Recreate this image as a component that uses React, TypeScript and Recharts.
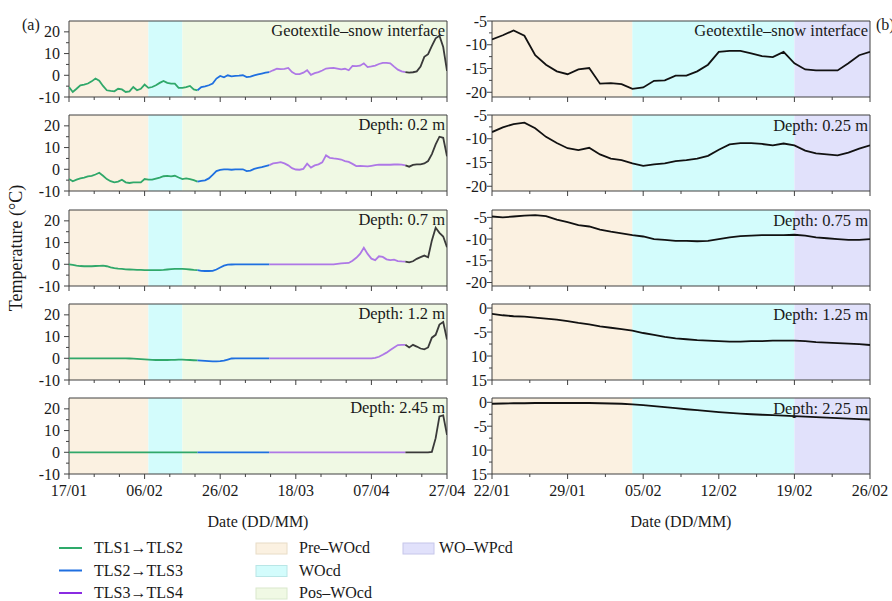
import React from 'react';
import { LineChart, Line, XAxis, YAxis, ReferenceArea } from 'recharts';

const FONT = '"Liberation Serif", "Times New Roman", Times, serif';
const AXIS_COLOR = '#404040';
const TEXT_COLOR = '#1a1a1a';

// ---------- x axis ticks ----------
const leftDateLabels = ['17/01', '06/02', '26/02', '18/03', '07/04', '27/04'];
const leftDateDays = [0, 20, 40, 60, 80, 100];
const rightDateLabels = ['22/01', '29/01', '05/02', '12/02', '19/02', '26/02'];
const rightDateDays = [0, 7, 14, 21, 28, 35];

// ---------- phases (day offsets) ----------
const leftPhaseNames = ['Pre–WOcd', 'WOcd', 'Pos–WOcd'];
const leftPhaseBounds = [0, 21, 30, 100];
const rightPhaseNames = ['Pre–WOcd', 'WOcd', 'WO–WPcd'];
const rightPhaseBounds = [0, 13, 28, 35];
const phaseColors: Record<string, string> = {
  'Pre–WOcd': '#FBF1E1',
  'WOcd': '#D3FCFC',
  'Pos–WOcd': '#F0F9E4',
  'WO–WPcd': '#E1E1FB',
};
const phaseBorders: Record<string, string> = {
  'Pre–WOcd': '#E8DCC6',
  'WOcd': '#B9E6E6',
  'Pos–WOcd': '#D9E8CC',
  'WO–WPcd': '#C6C6EA',
};

// ---------- segments of the left series ----------
const segmentNames = ['TLS1→TLS2', 'TLS2→TLS3', 'TLS3→TLS4', 'TLS4'];
const segmentEnds = [34, 53, 89, 100];
const segmentColors = ['#30A86A', '#1F70E0', '#AE78E6', '#3A3A3A'];
const legendLineColors = ['#2EAA6A', '#1F6FE0', '#8A2BE2'];

// ---------- left panels (daily values, 17/01 .. 27/04) ----------
const leftGeotextile = [
  -5.4, -7.7, -6.2, -4.6, -4.3, -3.8, -2.8, -1.5, -2.5, -4.9,
  -6.9, -7.2, -7.4, -6.2, -6.5, -7.7, -7.4, -5.4, -6.9, -6.2,
  -4.3, -5.8, -5.4, -4.6, -3.5, -2.6, -3.5, -3.8, -3.8, -5.8,
  -5.8, -5.4, -4.9, -6.5, -6.9, -5.4, -5.1, -4.6, -3.8, -1.5,
  -0.3, -0.9, 0, -0.5, -0.3, -0.2, 0, -0.8, -0.6, 0,
  0.4, 0.8, 1.2, 1.5, 2.3, 3.0, 2.8, 3.0, 3.4, 1.5,
  0.5, 0.5, 1.2, 2.3, 0.2, 1.0, 1.5, 2.2, 3.1, 3.3,
  3.4, 3.1, 2.7, 3.0, 2.3, 4.3, 4.2, 4.4, 5.5, 3.8,
  4.1, 4.5, 5.2, 5.7, 5.7, 5.5, 4.0, 2.6, 1.8, 1.5,
  1.2, 1.4, 1.8, 4.0, 8.5, 9.7, 13.5, 17.0, 18.2, 13.0,
  2.0,
];
const leftDepth02 = [
  -4.5, -5.5, -4.8, -4.2, -3.8, -3.3, -3.0, -2.4, -1.6, -3.0,
  -4.5, -5.5, -6.0, -5.7, -4.8, -6.0, -6.3, -6.0, -6.0, -6.0,
  -4.5, -4.8, -4.8, -4.3, -3.8, -3.2, -3.0, -3.3, -3.0, -3.8,
  -4.5, -4.2, -4.5, -5.0, -5.7, -5.3, -5.1, -4.2, -2.6, -0.8,
  -0.3, 0, 0, -0.2, 0, 0, 0, -0.8, -0.6, 0.2,
  0.6, 1.0, 1.5, 1.9, 2.7, 3.0, 3.3, 2.7, 1.8, 0.5,
  -0.1, -0.2, 0.2, 2.6, 0.8, 1.8, 2.3, 3.2, 6.4, 5.3,
  5.0, 4.8, 4.5, 3.8, 3.4, 2.5, 1.5, 1.6, 1.5, 1.3,
  1.6, 1.9, 2.1, 2.1, 2.1, 2.1, 2.2, 2.3, 2.1, 1.8,
  1.2, 2.0, 2.3, 2.3, 2.7, 3.8, 7.0, 11.5, 15.0, 14.5,
  6.0,
];
const leftDepth07 = [
  0, -0.3, -0.6, -0.8, -0.9, -0.9, -0.9, -0.8, -0.7, -0.6,
  -0.9, -1.4, -1.8, -2.0, -2.1, -2.3, -2.4, -2.5, -2.6, -2.6,
  -2.7, -2.7, -2.7, -2.7, -2.7, -2.6, -2.4, -2.2, -2.1, -2.1,
  -2.1, -2.2, -2.4, -2.6, -2.7, -3.0, -3.1, -3.1, -3.0, -2.4,
  -1.5, -0.6, -0.2, -0.1, 0, 0, 0, 0, 0, 0,
  0, 0, 0, 0, 0, 0, 0, 0, 0, 0,
  0, 0, 0, 0, 0, 0, 0, 0, 0, 0,
  0, 0.2, 0.4, 0.5, 0.6, 1.6, 3.0, 4.8, 7.6, 4.8,
  2.6, 1.9, 3.7, 3.4, 2.3, 1.9, 2.1, 1.5, 1.3, 1.2,
  0.9, 1.4, 2.5, 3.3, 4.0, 3.2, 11.0, 16.8, 14.5, 12.8,
  7.9,
];
const leftDepth12 = [
  0, 0, 0, 0, 0, 0, 0, 0, 0, 0,
  0, 0, 0, 0, 0, 0, -0.1, -0.2, -0.3, -0.4,
  -0.5, -0.6, -0.7, -0.8, -0.8, -0.8, -0.8, -0.7, -0.7, -0.6,
  -0.6, -0.7, -0.8, -0.9, -1.0, -1.1, -1.2, -1.3, -1.4, -1.4,
  -1.3, -1.1, -0.6, -0.1, 0, 0, 0, 0, 0, 0,
  0, 0, 0, 0, 0, 0, 0, 0, 0, 0,
  0, 0, 0, 0, 0, 0, 0, 0, 0, 0,
  0, 0, 0, 0, 0, 0, 0, 0, 0, 0,
  0, 0.2, 0.7, 1.6, 2.6, 3.8, 5.0, 6.1, 6.2, 6.2,
  5.0, 6.2, 5.4, 4.5, 4.1, 5.0, 9.5, 10.8, 15.5, 16.7,
  8.6,
];
const leftDepth245 = [
  0, 0, 0, 0, 0, 0, 0, 0, 0, 0,
  0, 0, 0, 0, 0, 0, 0, 0, 0, 0,
  0, 0, 0, 0, 0, 0, 0, 0, 0, 0,
  0, 0, 0, 0, 0, 0, 0, 0, 0, 0,
  0, 0, 0, 0, 0, 0, 0, 0, 0, 0,
  0, 0, 0, 0, 0, 0, 0, 0, 0, 0,
  0, 0, 0, 0, 0, 0, 0, 0, 0, 0,
  0, 0, 0, 0, 0, 0, 0, 0, 0, 0,
  0, 0, 0, 0, 0, 0, 0, 0, 0, 0,
  0, 0, 0, 0, 0, 0, 0.2, 6.5, 16.5, 17.0,
  8.0,
];
const leftSeries = [leftGeotextile, leftDepth02, leftDepth07, leftDepth12, leftDepth245];
const leftLabels = ['Geotextile–snow interface', 'Depth: 0.2 m', 'Depth: 0.7 m', 'Depth: 1.2 m', 'Depth: 2.45 m'];

// ---------- right panels (daily values, 22/01 .. 26/02) ----------
const rightGeotextile = [
  -8.9, -8.0, -7.0, -8.1, -12.2, -14.2, -15.6, -16.2, -15.2, -14.9,
  -18.2, -18.1, -18.3, -19.3, -19.0, -17.6, -17.5, -16.5, -16.5, -15.6,
  -14.2, -11.5, -11.3, -11.3, -11.8, -12.4, -12.6, -11.5, -13.9, -15.2,
  -15.4, -15.4, -15.4, -13.9, -12.2, -11.5,
];
const rightDepth025 = [
  -8.6, -7.6, -6.9, -6.6, -7.8, -9.6, -10.9, -12.0, -12.4, -11.9,
  -13.3, -14.2, -14.5, -15.2, -15.7, -15.4, -15.2, -14.7, -14.5, -14.2,
  -13.6, -12.3, -11.2, -10.9, -10.9, -11.1, -11.4, -11.0, -11.4, -12.5,
  -13.1, -13.3, -13.5, -12.9, -12.1, -11.4,
];
const rightDepth075 = [
  -4.8, -5.0, -4.8, -4.6, -4.5, -4.7, -5.5, -6.1, -6.8, -7.1,
  -7.8, -8.3, -8.7, -9.1, -9.4, -10.0, -10.2, -10.4, -10.4, -10.5,
  -10.4, -10.0, -9.6, -9.3, -9.2, -9.1, -9.1, -9.1, -9.0, -9.2,
  -9.6, -9.8, -10.0, -10.2, -10.2, -10.0,
];
const rightDepth125 = [
  -1.2, -1.5, -1.7, -1.8, -2.0, -2.2, -2.4, -2.7, -3.1, -3.4,
  -3.8, -4.1, -4.4, -4.7, -5.2, -5.6, -6.0, -6.3, -6.5, -6.7,
  -6.8, -6.9, -7.0, -7.0, -6.9, -6.9, -6.8, -6.8, -6.8, -6.9,
  -7.1, -7.2, -7.3, -7.4, -7.5, -7.7,
];
const rightDepth225 = [
  -0.3, -0.25, -0.2, -0.2, -0.15, -0.15, -0.15, -0.15, -0.15, -0.15,
  -0.2, -0.25, -0.3, -0.45, -0.6, -0.8, -1.0, -1.2, -1.45, -1.65,
  -1.85, -2.05, -2.2, -2.35, -2.5, -2.6, -2.7, -2.8, -2.9, -3.0,
  -3.1, -3.2, -3.3, -3.4, -3.5, -3.6,
];
const rightSeries = [rightGeotextile, rightDepth025, rightDepth075, rightDepth125, rightDepth225];
const rightLabels = ['Geotextile–snow interface', 'Depth: 0.25 m', 'Depth: 0.75 m', 'Depth: 1.25 m', 'Depth: 2.25 m'];

// ---------- y axes ----------
const leftYDomain = [-10, 25];
const leftYMajor = [-10, 0, 10, 20];
const leftYMinor = [-5, 5, 15];
const rightYDomains = [[-21, -5], [-21, -5], [-20.8, -3.3], [-15, 0.85], [-15, 0.9]];
const rightYMajorA = [-20, -15, -10, -5];
const rightYMajorB = [-15, -10, -5, 0];
const rightYLabelsB = ['15', '10', '-5', '0'];
const rightYMinorA = [-17.5, -12.5, -7.5];
const rightYMinorB = [-12.5, -7.5, -2.5];

// ---------- layout ----------
const LEFT_TOPS = [21, 115, 210, 304, 398];
const RIGHT_TOPS = [20.5, 115, 210, 304, 398];
const PLOT_H = 76;
const PLOT_W = 378;
const LEFT_X0 = 69;
const RIGHT_X0 = 492;
const Y_W = 50;
const X_H = 30;
const M_T = 12;
const M_R = 24;

function near(a: number, b: number) {
  return Math.abs(a - b) < 1e-6;
}

function makeXTick(majors: number[], labels: string[], showLabels: boolean) {
  return (props: any) => {
    const { x, y, payload } = props;
    const idx = majors.findIndex((m) => near(m, payload.value));
    const major = idx >= 0;
    return (
      <g>
        <line x1={x} x2={x} y1={y} y2={y + (major ? 5 : 3)} stroke={AXIS_COLOR} strokeWidth={1} />
        {major && showLabels ? (
          <text x={x} y={y + 22} textAnchor="middle" fontFamily={FONT} fontSize={16} fill={TEXT_COLOR}>
            {labels[idx]}
          </text>
        ) : null}
      </g>
    );
  };
}

function makeYTick(majors: number[], labels: string[], gap: number) {
  return (props: any) => {
    const { x, y, payload } = props;
    const idx = majors.findIndex((m) => near(m, payload.value));
    const major = idx >= 0;
    return (
      <g>
        <line x1={x - (major ? 5 : 3)} x2={x} y1={y} y2={y} stroke={AXIS_COLOR} strokeWidth={1} />
        {major ? (
          <text x={x - gap} y={y + 5.5} textAnchor="end" fontFamily={FONT} fontSize={16} fill={TEXT_COLOR}>
            {labels[idx]}
          </text>
        ) : null}
      </g>
    );
  };
}

function minorSteps(max: number, step: number) {
  const out: number[] = [];
  for (let k = 0; k * step <= max + 1e-6; k++) out.push(k * step);
  return out;
}

function LeftPanel({ index }: { index: number }) {
  const vals = leftSeries[index];
  const data = vals.map((v, i) => {
    const row: any = { day: i };
    let start = 0;
    segmentEnds.forEach((end, s) => {
      row['s' + s] = i >= start && i <= end ? v : null;
      start = end;
    });
    return row;
  });
  const xTicks = minorSteps(100, 20 / 3);
  const yTicks = [...leftYMajor, ...leftYMinor].sort((a, b) => a - b);
  const top = LEFT_TOPS[index];
  return (
    <div style={{ position: 'absolute', left: LEFT_X0 - Y_W, top: top - M_T }}>
      <LineChart width={Y_W + PLOT_W + M_R} height={M_T + PLOT_H + X_H} data={data}
        margin={{ top: M_T, right: M_R, left: 0, bottom: 0 }}>
        <XAxis dataKey="day" type="number" domain={[0, 100]} ticks={xTicks} interval={0}
          height={X_H} tickSize={0} tickMargin={0} tickLine={false} axisLine={false}
          tick={makeXTick(leftDateDays, leftDateLabels, index === 4)} allowDataOverflow />
        <YAxis type="number" domain={leftYDomain} ticks={yTicks} interval={0} width={Y_W}
          tickSize={0} tickMargin={0} tickLine={false} axisLine={false}
          tick={makeYTick(leftYMajor, leftYMajor.map(String), 9)} allowDataOverflow />
        {leftPhaseNames.map((n, k) => (
          <ReferenceArea key={n} x1={leftPhaseBounds[k]} x2={leftPhaseBounds[k + 1]}
            fill={phaseColors[n]} fillOpacity={1} stroke="none" ifOverflow="hidden" />
        ))}
        {segmentNames.map((n, s) => (
          <Line key={n} dataKey={'s' + s} type="linear" stroke={segmentColors[s]} strokeWidth={1.8}
            dot={false} activeDot={false} isAnimationActive={false} connectNulls={false} />
        ))}
        <ReferenceArea x1={0} x2={100} fill="none" stroke={AXIS_COLOR} strokeWidth={1} ifOverflow="visible" />
      </LineChart>
    </div>
  );
}

function RightPanel({ index }: { index: number }) {
  const vals = rightSeries[index];
  const data = vals.map((v, i) => ({ day: i, t: v }));
  const xTicks = minorSteps(35, 3.5);
  const typeB = index >= 3;
  const majors = typeB ? rightYMajorB : rightYMajorA;
  const labels = typeB ? rightYLabelsB : rightYMajorA.map(String);
  const yTicks = [...majors, ...(typeB ? rightYMinorB : rightYMinorA)].sort((a, b) => a - b);
  const top = RIGHT_TOPS[index];
  return (
    <div style={{ position: 'absolute', left: RIGHT_X0 - Y_W, top: top - M_T }}>
      <LineChart width={Y_W + PLOT_W + M_R} height={M_T + PLOT_H + X_H} data={data}
        margin={{ top: M_T, right: M_R, left: 0, bottom: 0 }}>
        <XAxis dataKey="day" type="number" domain={[0, 35]} ticks={xTicks} interval={0}
          height={X_H} tickSize={0} tickMargin={0} tickLine={false} axisLine={false}
          tick={makeXTick(rightDateDays, rightDateLabels, index === 4)} allowDataOverflow />
        <YAxis type="number" domain={rightYDomains[index]} ticks={yTicks} interval={0} width={Y_W}
          tickSize={0} tickMargin={0} tickLine={false} axisLine={false}
          tick={makeYTick(majors, labels, 5)} allowDataOverflow />
        {rightPhaseNames.map((n, k) => (
          <ReferenceArea key={n} x1={rightPhaseBounds[k]} x2={rightPhaseBounds[k + 1]}
            fill={phaseColors[n]} fillOpacity={1} stroke="none" ifOverflow="hidden" />
        ))}
        <Line dataKey="t" type="linear" stroke="#111111" strokeWidth={1.8}
          dot={false} activeDot={false} isAnimationActive={false} />
        <ReferenceArea x1={0} x2={35} fill="none" stroke={AXIS_COLOR} strokeWidth={1} ifOverflow="visible" />
      </LineChart>
    </div>
  );
}

const legendPatchOrder = ['Pre–WOcd', 'WOcd', 'Pos–WOcd'];

export default function App() {
  const textStyle = { fontFamily: FONT, fill: TEXT_COLOR };
  return (
    <div style={{ position: 'absolute', left: 0, top: 0, width: 892, height: 601, background: '#ffffff', overflow: 'hidden' }}>
      {[0, 1, 2, 3, 4].map((i) => <LeftPanel key={'l' + i} index={i} />)}
      {[0, 1, 2, 3, 4].map((i) => <RightPanel key={'r' + i} index={i} />)}
      <svg width={892} height={601} style={{ position: 'absolute', left: 0, top: 0, pointerEvents: 'none' }}>
        {leftLabels.map((t, i) => (
          <text key={'lt' + i} x={445} y={LEFT_TOPS[i] + 15} textAnchor="end" fontSize={16.5} {...textStyle}>{t}</text>
        ))}
        {rightLabels.map((t, i) => (
          <text key={'rt' + i} x={868} y={RIGHT_TOPS[i] + 15.5} textAnchor="end" fontSize={16.5} {...textStyle}>{t}</text>
        ))}
        <text x={22} y={30} fontSize={16} {...textStyle}>(a)</text>
        <text x={876} y={30} fontSize={16} {...textStyle}>(b)</text>
        <text transform="translate(22,248) rotate(-90)" textAnchor="middle" fontSize={18} {...textStyle}>Temperature (°C)</text>
        <text x={258} y={527} textAnchor="middle" fontSize={16} {...textStyle}>Date (DD/MM)</text>
        <text x={681} y={527} textAnchor="middle" fontSize={16} {...textStyle}>Date (DD/MM)</text>
        {segmentNames.slice(0, 3).map((n, k) => (
          <g key={'lg' + k}>
            <line x1={59} x2={82} y1={548 + k * 22.5} y2={548 + k * 22.5} stroke={legendLineColors[k]} strokeWidth={2} />
            <text x={94} y={553 + k * 22.5} fontSize={16} {...textStyle}>{n}</text>
          </g>
        ))}
        {legendPatchOrder.map((n, k) => (
          <g key={'lp' + k}>
            <rect x={256} y={543 + k * 22.5} width={31} height={11} fill={phaseColors[n]} stroke={phaseBorders[n]} strokeWidth={1} />
            <text x={299} y={553 + k * 22.5} fontSize={16} {...textStyle}>{n}</text>
          </g>
        ))}
        <rect x={403} y={543} width={31} height={11} fill={phaseColors['WO–WPcd']} stroke={phaseBorders['WO–WPcd']} strokeWidth={1} />
        <text x={439} y={553} fontSize={16} {...textStyle}>WO–WPcd</text>
      </svg>
    </div>
  );
}
